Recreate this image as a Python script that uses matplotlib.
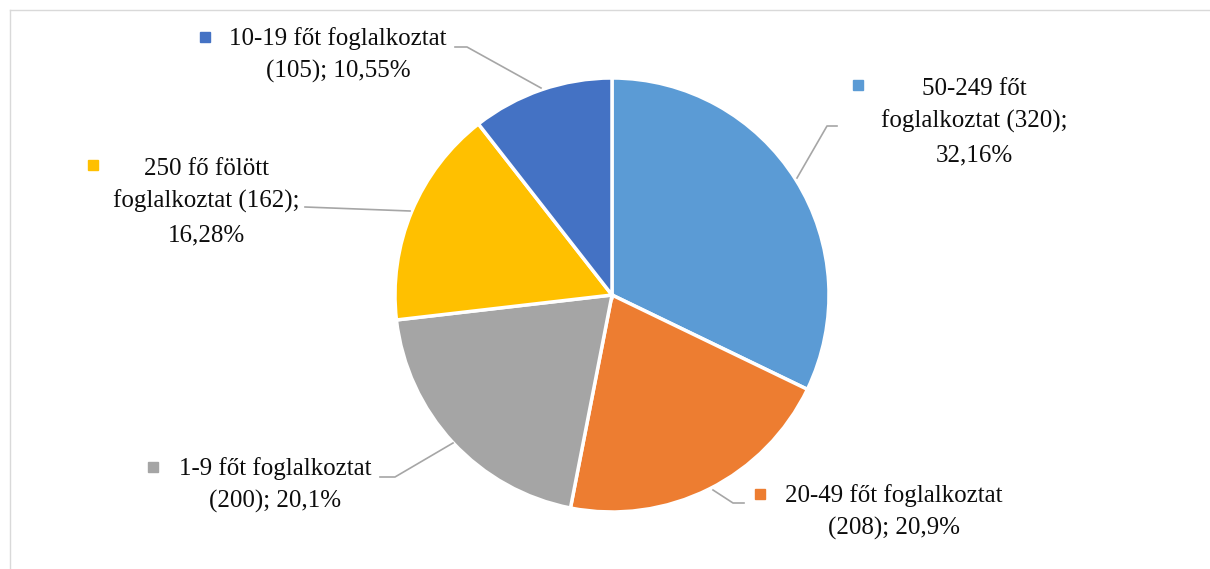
import matplotlib.pyplot as plt

# adatok
categories = ["50-249 főt foglalkoztat", "20-49 főt foglalkoztat", "1-9 főt foglalkoztat",
              "250 fő fölött foglalkoztat", "10-19 főt foglalkoztat"]
counts = [320, 208, 200, 162, 105]
percents = [32.16, 20.9, 20.1, 16.28, 10.55]
colors = ["#5B9BD5", "#ED7D31", "#A5A5A5", "#FFC000", "#4472C4"]

W, H = 1210, 569
fig = plt.figure(figsize=(W / 100, H / 100), dpi=100)
ax = fig.add_axes([0, 0, 1, 1])

cx, cy, r = 612, H - 295, 217
ax.pie(counts, colors=colors, startangle=90, counterclock=False,
       center=(cx, cy), radius=r, frame=True,
       wedgeprops=dict(edgecolor="white", linewidth=2.5))
ax.set_xlim(0, W)
ax.set_ylim(0, H)
ax.axis("off")

# cimkek sortoresei
def label_lines(i):
    pct = ("%g" % percents[i]).replace(".", ",")
    name = categories[i]
    if i == 0:
        return ["50-249 főt", "foglalkoztat (%d);" % counts[i], pct + "%"]
    if i == 3:
        return ["250 fő fölött", "foglalkoztat (%d);" % counts[i], pct + "%"]
    return [name, "(%d); %s%%" % (counts[i], pct)]

# elhelyezes: szoveg kozep x, elso sor alapvonal, marker, vezeto vonal (kep koordinatak)
layout = {
    0: (974, 95, (858, 85), [(797, 178), (827, 126), (837, 126)]),
    1: (894, 502, (760, 494), [(713, 490), (733, 503), (744, 503)]),
    2: (275, 475, (153, 467), [(453, 443), (395, 477), (380, 477)]),
    3: (206, 175, (93, 165), [(410, 211), (305, 207)]),
    4: (338, 45, (205, 37), [(541, 88), (467, 47), (455, 47)]),
}

font = dict(family="Liberation Serif", size=18, color="#0d0d0d")
for i in range(len(counts)):
    tx, ty, mk, lead = layout[i]
    for k, line in enumerate(label_lines(i)):
        ax.text(tx, H - (ty + 33 * k), line, ha="center", va="baseline", **font)
    ax.plot(mk[0], H - mk[1], marker="s", ms=6.5, color=colors[i], ls="none")
    ax.plot([p[0] for p in lead], [H - p[1] for p in lead], color="#A6A6A6", lw=1.2)

# keret
ax.plot([10, 10], [0, H - 10], color="#D9D9D9", lw=1)
ax.plot([10, W], [H - 10, H - 10], color="#D9D9D9", lw=1)

plt.savefig("out.png", dpi=100)
